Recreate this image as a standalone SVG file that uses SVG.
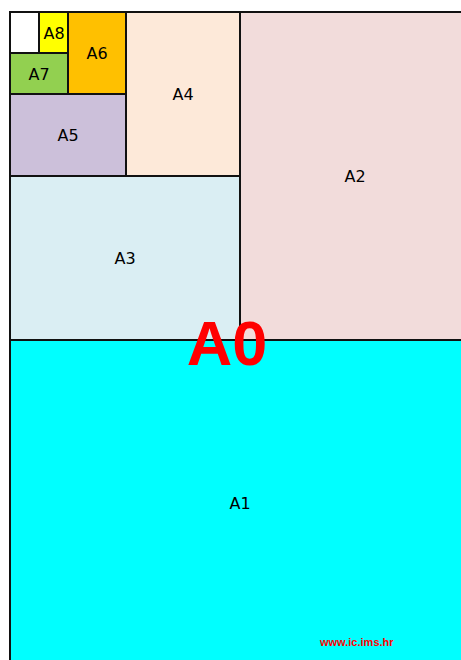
<svg xmlns="http://www.w3.org/2000/svg" width="461" height="660" viewBox="0 0 461 660">
<style>
.s{stroke:#111;stroke-width:2}
.l{font-family:"DejaVu Sans",Verdana,sans-serif;font-size:16px;fill:#000;text-anchor:middle}
</style>
<rect width="461" height="660" fill="#fff"/>
<g id="A1"><rect class="s" x="10" y="340" width="460" height="328" fill="#00FFFF"/><text class="l" x="240" y="509">A1</text></g>
<g id="A2"><rect class="s" x="240" y="12" width="230" height="328" fill="#F2DCDB"/><text class="l" x="355" y="182">A2</text></g>
<g id="A3"><rect class="s" x="10" y="176" width="230" height="164" fill="#DAEEF3"/><text class="l" x="125" y="264">A3</text></g>
<g id="A4"><rect class="s" x="126" y="12" width="114" height="164" fill="#FDE9D9"/><text class="l" x="183" y="100">A4</text></g>
<g id="A5"><rect class="s" x="10" y="94" width="116" height="82" fill="#CCC0DA"/><text class="l" x="68" y="141">A5</text></g>
<g id="A6"><rect class="s" x="68" y="12" width="58" height="82" fill="#FFC000"/><text class="l" x="97" y="59">A6</text></g>
<g id="A7"><rect class="s" x="10" y="53" width="58" height="41" fill="#92D050"/><text class="l" x="39" y="80">A7</text></g>
<g id="A8"><rect class="s" x="39" y="12" width="29" height="41" fill="#FFFF00"/><text class="l" x="54" y="39">A8</text></g>
<g id="blank"><rect class="s" x="10" y="12" width="29" height="41" fill="#FFFFFF"/></g>
<g id="connectors"/>
<g id="A0"><text x="227" y="365" font-family="'Liberation Sans',Arial,sans-serif" font-weight="bold" font-size="63" fill="#FF0000" text-anchor="middle">A0</text></g>
<g id="url"><text x="320" y="646" font-family="'Liberation Sans',Arial,sans-serif" font-weight="bold" font-size="11" fill="#FF0000">www.ic.ims.hr</text></g>
</svg>
